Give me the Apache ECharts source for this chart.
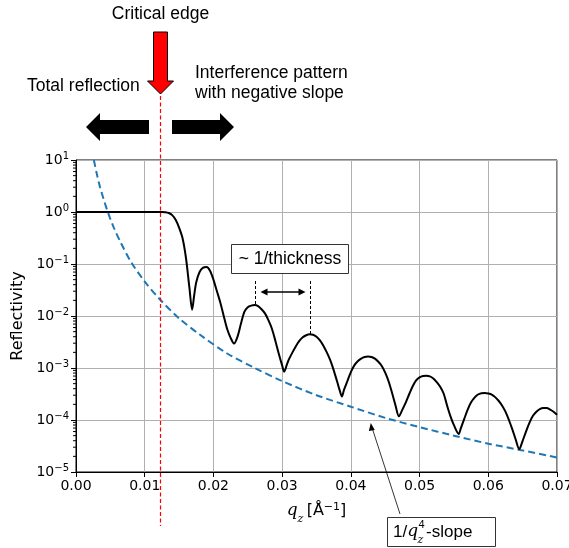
<!DOCTYPE html>
<html>
<head>
<meta charset="utf-8">
<script src="https://cdn.jsdelivr.net/npm/echarts@6/dist/echarts.min.js"></script>
<style>
  html, body { margin: 0; padding: 0; background: #fff; }
  #chart { width: 569px; height: 548px; }
</style>
</head>
<body>
<div id="chart"></div>
<script>
// reflectivity curve: q_z and log10(R)
var reflQ = [0, 0.005, 0.010, 0.0125, 0.013, 0.0135, 0.014, 0.0145, 0.015, 0.0155, 0.016, 0.0165, 0.0169,
  0.0172, 0.0175, 0.018, 0.0185, 0.019,
  0.0195, 0.020, 0.0205, 0.021, 0.0215, 0.022, 0.0225, 0.0230,
  0.0235, 0.024, 0.0245, 0.025, 0.0255, 0.026,
  0.0265, 0.027, 0.0275, 0.028, 0.0285, 0.029, 0.0295, 0.030, 0.0303,
  0.0307, 0.031, 0.0315, 0.032, 0.0325, 0.033, 0.0335, 0.034,
  0.0345, 0.035, 0.0355, 0.036, 0.0365, 0.037, 0.0375, 0.038, 0.0384, 0.0387,
  0.039, 0.0395, 0.040, 0.0405, 0.041, 0.0415, 0.042, 0.0425,
  0.043, 0.0435, 0.044, 0.0445, 0.045, 0.0455, 0.046, 0.0465, 0.0470,
  0.0475, 0.048, 0.0485, 0.049, 0.0495, 0.050, 0.0505, 0.051,
  0.0515, 0.052, 0.0525, 0.053, 0.0535, 0.054, 0.0545, 0.055, 0.0557,
  0.056, 0.0565, 0.057, 0.0575, 0.058, 0.0585, 0.059, 0.0595,
  0.060, 0.0605, 0.061, 0.0615, 0.062, 0.0625, 0.063, 0.0635, 0.064, 0.0645,
  0.065, 0.0655, 0.066, 0.0665, 0.067, 0.0675, 0.068, 0.0685, 0.069, 0.0695, 0.070];
var reflLog = [0, 0, 0, 0, -0.005, -0.02, -0.06, -0.15, -0.3, -0.5, -0.88, -1.45, -1.88,
  -1.6, -1.35, -1.15, -1.07, -1.06,
  -1.13, -1.30, -1.52, -1.74, -2.0, -2.25, -2.42, -2.53,
  -2.40, -2.15, -1.92, -1.83, -1.80, -1.79,
  -1.81, -1.87, -1.95, -2.08, -2.24, -2.47, -2.72, -2.95, -3.07,
  -2.93, -2.83, -2.70, -2.58, -2.48, -2.41, -2.37, -2.35,
  -2.36, -2.40, -2.47, -2.57, -2.70, -2.85, -3.04, -3.26, -3.44, -3.55,
  -3.42, -3.25, -3.08, -2.95, -2.87, -2.82, -2.79, -2.78,
  -2.79, -2.82, -2.88, -2.96, -3.09, -3.26, -3.48, -3.72, -3.93,
  -3.80, -3.66, -3.50, -3.35, -3.24, -3.18, -3.155, -3.15,
  -3.16, -3.20, -3.27, -3.36, -3.49, -3.72, -3.93, -4.10, -4.27,
  -4.16, -3.98, -3.80, -3.66, -3.57, -3.51, -3.485, -3.48,
  -3.49, -3.51, -3.56, -3.63, -3.72, -3.84, -4.0, -4.18, -4.38, -4.56,
  -4.40, -4.22, -4.05, -3.92, -3.84, -3.79, -3.77, -3.77, -3.80, -3.84, -3.90];

// dashed 1/q^4 guide line
var slopeQ = [0.0026, 0.0030, 0.0035, 0.0040, 0.0047, 0.0055, 0.0065, 0.0080, 0.0100, 0.0122, 0.0150,
  0.0180, 0.0220, 0.0260, 0.0300, 0.0350, 0.0400, 0.0450, 0.0500, 0.0550, 0.0600, 0.0650, 0.0700];
var slopeR = [10, 5.6, 3.0, 1.8, 0.94, 0.5, 0.26, 0.11, 0.046, 0.021, 0.009,
  0.0044, 0.0019, 0.001, 0.00056, 0.0003, 0.00018, 0.00011, 0.000073, 0.00005, 0.000035, 0.000026, 0.000019];

var yMin = 1e-5, yMax = 10;
var criticalQ = 0.0122;
var thicknessPeaks = [[0.0261, 0.0163], [0.0341, 0.0045]];
var slopePointer = [0.0429, 0.000088];

function pairs(a, b) { return a.map(function (v, i) { return [v, b[i]]; }); }

// matplotlib-like minor ticks on the log axis (2..9 x 10^k)
var minorVals = [];
for (var e = -5; e < 1; e++) for (var m = 2; m <= 9; m++) minorVals.push(m * Math.pow(10, e));

var chart = echarts.init(document.getElementById('chart'), null, { renderer: 'canvas' });
var tickFont = 'DejaVu Sans';
var annFont = 'Liberation Sans';
var mathFont = 'DejaVu Serif';

chart.setOption({
  animation: false,
  grid: { left: 76, right: 12, top: 160, bottom: 76, outerBoundsMode: 'none', containLabel: false,
    show: true, borderColor: '#000', borderWidth: 1, backgroundColor: 'transparent' },
  xAxis: {
    type: 'value', min: 0, max: 0.07, interval: 0.01,
    axisLine: { lineStyle: { color: '#000', width: 1 } },
    axisTick: { length: 5, lineStyle: { color: '#000' } },
    axisLabel: { color: '#000', fontFamily: tickFont, fontSize: 14, margin: 7, hideOverlap: false,
      formatter: function (v) { return v.toFixed(2); } },
    splitLine: { show: true, lineStyle: { color: '#b0b0b0', width: 1 } },
    name: '{q|q}{z|z} {t|[Å}{s|−1}{t|]}',
    nameLocation: 'middle', nameGap: 30,
    nameTextStyle: { rich: {
      q: { fontFamily: mathFont, fontStyle: 'italic', fontSize: 17, color: '#000' },
      z: { fontFamily: mathFont, fontStyle: 'italic', fontSize: 11, color: '#000', verticalAlign: 'bottom', padding: [0, 0, -5, 0] },
      t: { fontFamily: tickFont, fontSize: 16, color: '#000' },
      s: { fontFamily: tickFont, fontSize: 11, color: '#000', verticalAlign: 'top', padding: [0, 0, 7, 0] }
    } }
  },
  yAxis: {
    type: 'log', logBase: 10, min: yMin, max: yMax,
    axisLine: { lineStyle: { color: '#000', width: 1 } },
    axisTick: { length: 5, lineStyle: { color: '#000' } },
    axisLabel: { color: '#000', margin: 7,
      formatter: function (v) {
        var ex = Math.round(Math.log10(v));
        return '{b|10}{s|' + String(ex).replace('-', '−') + '}';
      },
      rich: {
        b: { fontFamily: tickFont, fontSize: 14, color: '#000' },
        s: { fontFamily: tickFont, fontSize: 10, color: '#000', verticalAlign: 'top', padding: [0, 0, 8, 0] }
      } },
    splitLine: { show: true, lineStyle: { color: '#b0b0b0', width: 1 } },
    name: 'Reflectivity', nameLocation: 'middle', nameGap: 49, nameRotate: 90,
    nameTextStyle: { fontFamily: tickFont, fontSize: 16, color: '#000' }
  },
  series: [
    {
      type: 'line', data: pairs(slopeQ, slopeR), smooth: 0.3, showSymbol: false, z: 3,
      lineStyle: { color: '#1f77b4', width: 2, type: [7, 4] }
    },
    {
      type: 'line', smooth: 0.3, showSymbol: false, z: 4,
      data: reflQ.map(function (q, i) { return [q, Math.pow(10, reflLog[i])]; }),
      lineStyle: { color: '#000', width: 2 }
    },
    {
      type: 'custom', z: 5, silent: true, clip: false,
      data: minorVals.map(function (v) { return [0, v]; }),
      renderItem: function (params, api) {
        var p = api.coord([0, api.value(1)]);
        return { type: 'line', shape: { x1: p[0] - 3, y1: p[1], x2: p[0], y2: p[1] },
          style: { stroke: '#000', lineWidth: 1 } };
      }
    }
  ]
});

// annotations placed from data coordinates
var cx = Math.round(chart.convertToPixel({ xAxisIndex: 0 }, criticalQ)) + 0.5;
var pk1 = chart.convertToPixel({ xAxisIndex: 0, yAxisIndex: 0 }, thicknessPeaks[0]);
var pk2 = chart.convertToPixel({ xAxisIndex: 0, yAxisIndex: 0 }, thicknessPeaks[1]);
var sp = chart.convertToPixel({ xAxisIndex: 0, yAxisIndex: 0 }, slopePointer);
var px1 = Math.round(pk1[0]) + 0.5, px2 = Math.round(pk2[0]) + 0.5;
var arrowY = 292;

function blockArrow(x0, x1, dir) {
  // dir -1 points left, 1 points right
  var yc = 127, sh = 7, hh = 14, hl = 14;
  var tip = dir < 0 ? x0 : x1, base = dir < 0 ? x0 + hl : x1 - hl, tail = dir < 0 ? x1 : x0;
  return { type: 'polygon', shape: { points: [[tail, yc - sh], [base, yc - sh], [base, yc - hh], [tip, yc], [base, yc + hh], [base, yc + sh], [tail, yc + sh]] },
    style: { fill: '#000' } };
}

// measure pieces of the 1/q_z^4 label
var mctx = document.createElement('canvas').getContext('2d');
function tw(txt, font) { mctx.font = font; return mctx.measureText(txt).width; }
var lx = 393, ly = 532;
var f1 = '17px ' + annFont, fq = 'italic 17px ' + mathFont;
var w1 = tw('1/', f1), wq = tw('q', fq);

chart.setOption({
  graphic: [
    { type: 'line', z: 10, shape: { x1: cx, y1: 96, x2: cx, y2: 526 }, style: { stroke: '#ff0000', lineWidth: 1.2, lineDash: [4, 2.5] } },
    { type: 'polygon', z: 11, shape: { points: [[cx - 7, 32], [cx + 7, 32], [cx + 7, 81], [cx + 13, 81], [cx, 94], [cx - 13, 81], [cx - 7, 81]] },
      style: { fill: '#ff0000', stroke: '#000', lineWidth: 1 } },
    { type: 'text', x: cx, y: 14, style: { text: 'Critical edge', font: '17.5px ' + annFont, fill: '#000', align: 'center', verticalAlign: 'middle' } },
    { type: 'text', x: 27, y: 86, style: { text: 'Total reflection', font: '17.5px ' + annFont, fill: '#000', align: 'left', verticalAlign: 'middle' } },
    { type: 'text', x: 195, y: 73, style: { text: 'Interference pattern', font: '17.5px ' + annFont, fill: '#000', align: 'left', verticalAlign: 'middle' } },
    { type: 'text', x: 195, y: 93, style: { text: 'with negative slope', font: '17.5px ' + annFont, fill: '#000', align: 'left', verticalAlign: 'middle' } },
    blockArrow(86, 149, -1),
    blockArrow(172, 234, 1),
    // ~ 1/thickness
    { type: 'rect', z: 10, shape: { x: 231.5, y: 244.5, width: 117, height: 29 }, style: { fill: '#fff', stroke: '#333', lineWidth: 1 } },
    { type: 'text', x: 290, y: 259, z: 11, style: { text: '~ 1/thickness', font: '17.5px ' + annFont, fill: '#000', align: 'center', verticalAlign: 'middle' } },
    { type: 'line', z: 10, shape: { x1: px1, y1: 281, x2: px1, y2: pk1[1] }, style: { stroke: '#000', lineWidth: 1, lineDash: [3, 2] } },
    { type: 'line', z: 10, shape: { x1: px2, y1: 281, x2: px2, y2: pk2[1] }, style: { stroke: '#000', lineWidth: 1, lineDash: [3, 2] } },
    { type: 'line', z: 10, shape: { x1: px1 + 8, y1: arrowY, x2: px2 - 8, y2: arrowY }, style: { stroke: '#000', lineWidth: 1.5 } },
    { type: 'polygon', z: 10, shape: { points: [[px1 + 5, arrowY], [px1 + 12, arrowY - 3.5], [px1 + 12, arrowY + 3.5]] }, style: { fill: '#000' } },
    { type: 'polygon', z: 10, shape: { points: [[px2 - 5, arrowY], [px2 - 12, arrowY - 3.5], [px2 - 12, arrowY + 3.5]] }, style: { fill: '#000' } },
    // 1/q^4 slope label
    { type: 'line', z: 10, shape: { x1: 400, y1: 514, x2: sp[0] + 1, y2: sp[1] + 4 }, style: { stroke: '#000', lineWidth: 0.8 } },
    { type: 'polygon', z: 10, shape: { points: [[sp[0], sp[1]], [sp[0] - 2, sp[1] + 8], [sp[0] + 4, sp[1] + 7]] }, style: { fill: '#000' } },
    { type: 'rect', z: 10, shape: { x: 387.5, y: 517.5, width: 108, height: 29 }, style: { fill: '#fff', stroke: '#333', lineWidth: 1 } },
    { type: 'text', x: lx, y: ly, z: 11, style: { text: '1/', font: f1, fill: '#000', verticalAlign: 'middle' } },
    { type: 'text', x: lx + w1, y: ly, z: 11, style: { text: 'q', font: fq, fill: '#000', verticalAlign: 'middle' } },
    { type: 'text', x: lx + w1 + wq + 0.5, y: ly - 7, z: 11, style: { text: '4', font: '11px ' + annFont, fill: '#000', verticalAlign: 'middle' } },
    { type: 'text', x: lx + w1 + wq - 0.5, y: ly + 8, z: 11, style: { text: 'z', font: 'italic 11px ' + mathFont, fill: '#000', verticalAlign: 'middle' } },
    { type: 'text', x: lx + w1 + wq + 8, y: ly, z: 11, style: { text: '-slope', font: f1, fill: '#000', verticalAlign: 'middle' } }
  ]
});
</script>
</body>
</html>
